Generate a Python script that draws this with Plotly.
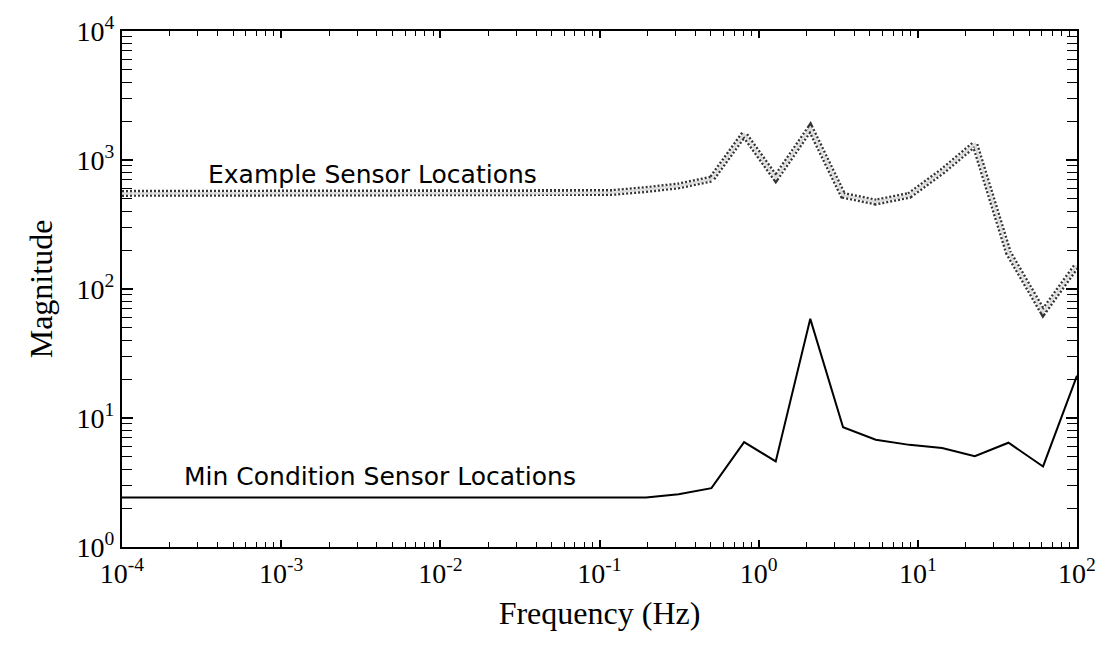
import plotly.graph_objects as go

# Frequencies (Hz) of the plotted points
freq = [1e-4, 1e-3, 1e-2, 0.05, 0.12, 0.196, 0.314, 0.505, 0.81, 1.28, 2.11,
        3.39, 5.44, 8.85, 14.2, 22.8, 37.1, 61.2, 100.0]

# Magnitudes
example_mag = [551, 551, 551, 552, 560, 590, 630, 711, 1590, 722, 1770,
               532, 472, 532, 815, 1330, 191, 66, 153]
mincond_mag = [2.42, 2.42, 2.42, 2.42, 2.42, 2.42, 2.56, 2.86, 6.5, 4.61, 58.7,
               8.47, 6.79, 6.19, 5.86, 5.06, 6.43, 4.21, 21.3]

x_tickvals = [1e-4, 1e-3, 1e-2, 1e-1, 1, 10, 100]
x_ticktext = ["10<sup>-4</sup>", "10<sup>-3</sup>", "10<sup>-2</sup>", "10<sup>-1</sup>",
              "10<sup>0</sup>", "10<sup>1</sup>", "10<sup>2</sup>"]
y_tickvals = [1, 10, 100, 1000, 10000]
y_ticktext = ["10<sup>0</sup>", "10<sup>1</sup>", "10<sup>2</sup>", "10<sup>3</sup>", "10<sup>4</sup>"]

SERIF = "Liberation Serif, Times New Roman, serif"
SANS = "DejaVu Sans, sans-serif"

fig = go.Figure()
# hatched grey thick line: dotted dark edges + light centre
fig.add_trace(go.Scatter(x=freq, y=example_mag, mode="lines",
                         line=dict(color="#333333", width=7, dash="2px,2px"),
                         showlegend=False, hoverinfo="skip"))
fig.add_trace(go.Scatter(x=freq, y=example_mag, mode="lines",
                         line=dict(color="#dcdcdc", width=2.5),
                         showlegend=False, name="Example Sensor Locations"))
fig.add_trace(go.Scatter(x=freq, y=mincond_mag, mode="lines",
                         line=dict(color="black", width=2),
                         showlegend=False, name="Min Condition Sensor Locations"))

fig.add_annotation(text="Example Sensor Locations", xref="paper", yref="paper",
                   x=(207 - 122) / 964, y=(547 - 169) / 523, xanchor="left", yanchor="middle",
                   showarrow=False, font=dict(family=SANS, size=25, color="black"))
fig.add_annotation(text="Min Condition Sensor Locations", xref="paper", yref="paper",
                   x=(183 - 122) / 964, y=(547 - 476) / 523, xanchor="left", yanchor="middle",
                   showarrow=False, font=dict(family=SANS, size=25, color="black"))

fig.update_xaxes(type="log", range=[-4, 2], tickvals=x_tickvals, ticktext=x_ticktext,
                 ticks="inside", ticklen=7, tickwidth=1.5, tickcolor="black",
                 minor=dict(ticks="inside", ticklen=5, tickwidth=1.2, tickcolor="black",
                            dtick="D1", showgrid=False),
                 showline=True, linewidth=2, linecolor="black", mirror="ticks",
                 showgrid=False, zeroline=False,
                 tickfont=dict(family=SERIF, size=28, color="black"),
                 title=dict(text="Frequency (Hz)", font=dict(family=SERIF, size=32, color="black"),
                            standoff=14))
fig.update_yaxes(type="log", range=[0, 4], tickvals=y_tickvals, ticktext=y_ticktext,
                 ticks="inside", ticklen=11, tickwidth=1.5, tickcolor="black",
                 minor=dict(ticks="inside", ticklen=10, tickwidth=1.2, tickcolor="black",
                            dtick="D1", showgrid=False),
                 showline=True, linewidth=2, linecolor="black", mirror="ticks",
                 showgrid=False, zeroline=False,
                 tickfont=dict(family=SERIF, size=28, color="black"),
                 title=dict(text="Magnitude", font=dict(family=SERIF, size=32, color="black"),
                            standoff=14))

fig.update_layout(width=1108, height=645, paper_bgcolor="white", plot_bgcolor="white",
                  margin=dict(l=122, r=22, t=24, b=98))

fig.write_html("out.html")
